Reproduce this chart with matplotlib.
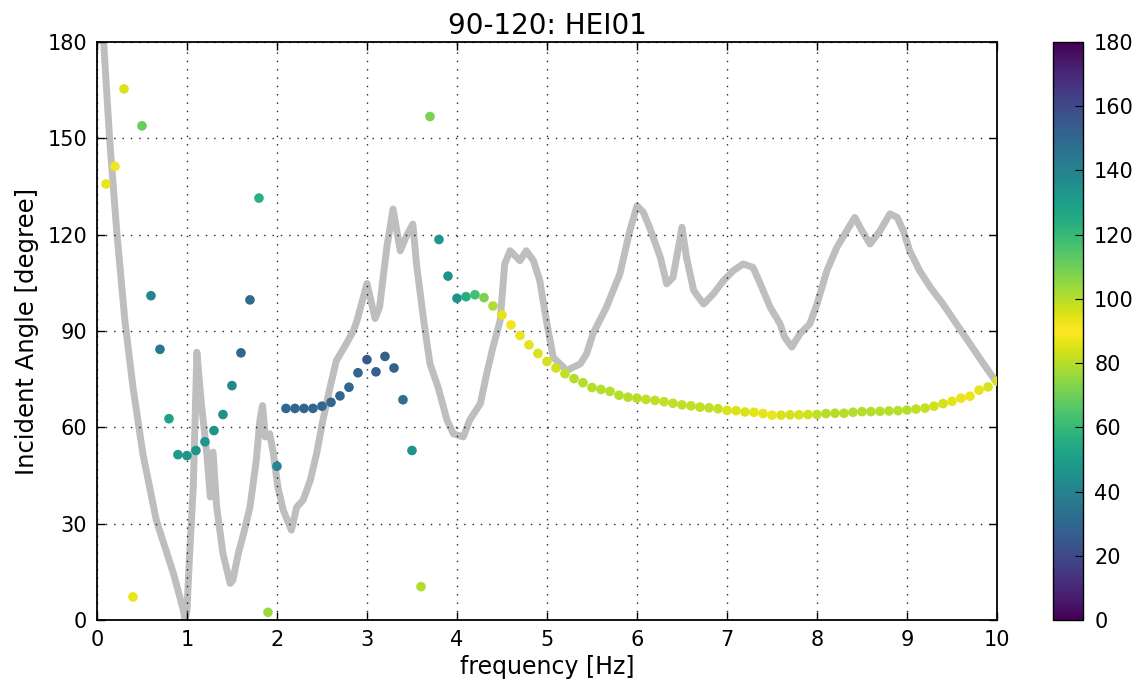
import numpy as np
import matplotlib
matplotlib.use("Agg")
import matplotlib.pyplot as plt
from matplotlib.colors import ListedColormap

# ---------------- data ----------------
freq = [round(0.1 * i, 1) for i in range(1, 101)]

angle = [135.8, 141.3, 165.4, 7.2, 153.9, 101.0, 84.3, 62.7, 51.5, 51.2,
         52.8, 55.5, 59.0, 64.0, 73.0, 83.2, 99.7, 131.4, 2.4, 47.9,
         65.9, 65.9, 65.9, 65.9, 66.6, 67.8, 69.8, 72.5, 77.0, 81.1,
         77.3, 82.1, 78.5, 68.6, 52.8, 10.4, 156.8, 118.5, 107.1, 100.2,
         100.7, 101.3, 100.4, 97.8, 95.0, 91.9, 88.6, 85.7, 83.0, 80.5,
         78.5, 76.7, 75.2, 73.9, 72.4, 71.8, 71.2, 70.0, 69.4, 69.1,
         68.7, 68.4, 68.0, 67.5, 67.0, 66.7, 66.3, 66.1, 65.8, 65.3,
         65.2, 64.8, 64.7, 64.3, 63.8, 63.8, 63.9, 63.9, 64.0, 64.0,
         64.3, 64.4, 64.4, 64.7, 64.9, 64.9, 65.0, 65.1, 65.2, 65.4,
         65.7, 66.0, 66.6, 67.4, 68.1, 69.1, 69.7, 71.6, 72.6, 74.4]

color_val = [87, 88, 85, 87, 69, 42, 36, 51, 49, 47,
             47, 47, 46, 45, 42, 30, 31, 57, 76, 42,
             30, 30, 30, 30, 30, 30, 30, 30, 29, 25,
             28, 27, 28, 33, 45, 79, 72, 47, 45, 45,
             56, 63, 72, 79, 86, 88, 87, 86, 85, 84,
             83, 81, 80, 80, 80, 80, 80, 80, 80, 80,
             81, 81, 81, 81, 81, 81, 81, 81, 82, 85,
             85, 85, 86, 86, 87, 85, 84, 84, 83, 81,
             80, 80, 80, 80, 80, 80, 80, 80, 80, 80,
             81, 82, 83, 84, 86, 87, 87, 86, 85, 84]

# grey background curve (10 pairs per row)
curve_f = [0.07, 0.14, 0.22, 0.31, 0.40, 0.51, 0.66, 0.85, 0.96, 0.98,
           1.00, 1.03, 1.07, 1.10, 1.11, 1.16, 1.22, 1.26, 1.27, 1.29,
           1.33, 1.40, 1.48, 1.51, 1.57, 1.63, 1.70, 1.77, 1.81, 1.84,
           1.87, 1.92, 1.96, 2.01, 2.07, 2.16, 2.22, 2.29, 2.37, 2.44,
           2.51, 2.59, 2.66, 2.77, 2.85, 2.89, 3.00, 3.09, 3.14, 3.22,
           3.29, 3.37, 3.44, 3.51, 3.55, 3.63, 3.70, 3.79, 3.89, 3.96,
           4.07, 4.14, 4.26, 4.33, 4.40, 4.48, 4.53, 4.59, 4.70, 4.77,
           4.85, 4.92, 5.00, 5.07, 5.22, 5.37, 5.44, 5.51, 5.66, 5.81,
           5.92, 6.00, 6.07, 6.14, 6.26, 6.33, 6.40, 6.48, 6.50, 6.55,
           6.63, 6.74, 6.85, 6.96, 7.07, 7.18, 7.29, 7.37, 7.48, 7.59,
           7.64, 7.72, 7.81, 7.92, 8.00, 8.11, 8.22, 8.33, 8.42, 8.50,
           8.59, 8.70, 8.81, 8.89, 8.96, 9.03, 9.14, 9.26, 9.40, 9.55,
           9.70, 9.85, 9.98]
curve_v = [182.0, 150.0, 121.0, 93.3, 72.5, 51.8, 31.0, 14.5, 3.1, 0.0,
           3.0, 20.8, 41.4, 72.5, 83.4, 67.4, 51.9, 38.3, 51.9, 52.3,
           35.2, 20.7, 11.4, 12.4, 20.7, 27.0, 35.2, 49.7, 62.2, 66.8,
           57.0, 58.0, 51.8, 41.4, 34.2, 28.0, 35.2, 37.3, 43.5, 51.8,
           62.2, 72.5, 80.8, 86.0, 90.1, 93.3, 104.8, 93.9, 97.4, 116.0,
           128.0, 115.0, 119.7, 123.3, 110.9, 93.3, 79.8, 72.5, 62.2, 58.0,
           57.0, 62.2, 67.4, 76.7, 85.0, 93.3, 110.9, 115.0, 111.9, 115.0,
           111.9, 105.7, 92.2, 81.8, 77.7, 79.8, 82.9, 89.1, 97.4, 107.8,
           121.2, 129.0, 127.0, 122.3, 112.9, 104.7, 106.7, 119.1, 122.3, 112.9,
           102.6, 98.4, 101.6, 105.7, 108.8, 110.9, 109.8, 104.7, 97.4, 92.2,
           88.1, 85.0, 89.1, 92.2, 98.4, 108.8, 116.0, 121.2, 125.4, 121.2,
           117.1, 121.2, 126.5, 125.4, 121.2, 115.0, 108.8, 103.6, 98.4, 92.2,
           86.0, 79.8, 74.6]

# ---------------- style ----------------
plt.rcParams['font.family'] = ['DejaVu Sans']

base = plt.get_cmap('viridis')(np.linspace(0, 1, 128))
cmap = ListedColormap(np.vstack([base, base[::-1]]))

fig = plt.figure(figsize=(11.38, 6.90), dpi=100)
ax = fig.add_axes([0.0852, 0.1014, 0.7909, 0.8377])
cax = fig.add_axes([0.9253, 0.1014, 0.0264, 0.8377])

ax.plot(curve_f, curve_v, color='#bebebe', lw=5, solid_joinstyle='round',
        zorder=1)

sc = ax.scatter(freq, angle, c=color_val, cmap=cmap, vmin=0, vmax=180,
                s=48, edgecolors='none', zorder=3)

ax.set_xlim(0, 10)
ax.set_ylim(0, 180)
ax.set_xticks(range(0, 11))
ax.set_yticks(range(0, 181, 30))
ax.grid(True, color='black', linestyle=(0, (1, 5)), linewidth=1.0, alpha=0.85)
ax.tick_params(direction='in', top=True, right=True, length=6, width=1,
               labelsize=15, pad=7)
for sp in ax.spines.values():
    sp.set_linewidth(1.3)
ax.set_xlabel('frequency [Hz]', fontsize=17, labelpad=4)
ax.set_ylabel('Incident Angle [degree]', fontsize=17.5, labelpad=6)
ax.set_title('90-120: HEI01', fontsize=20, pad=6)

cb = fig.colorbar(sc, cax=cax, ticks=range(0, 181, 20))
cb.ax.tick_params(direction='in', length=6, labelsize=15, pad=8)
cb.outline.set_linewidth(1.0)

fig.savefig('out.png', dpi=100)
